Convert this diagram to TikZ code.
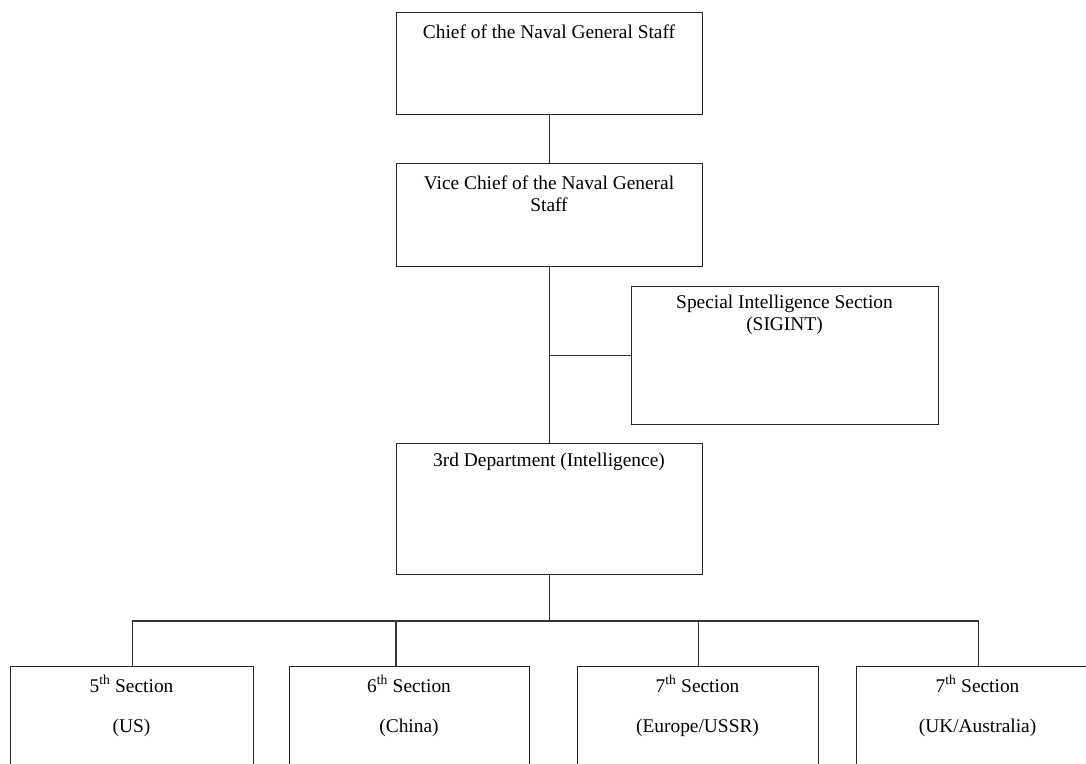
\documentclass[tikz,border=0pt]{standalone}
\usepackage{fontspec}
\setmainfont{Liberation Serif}
\begin{document}
\begin{tikzpicture}[x=1pt,y=-1pt,
  box/.style={draw=black!85, line width=1.1pt, fill=white, inner sep=0pt, anchor=north west},
  txt/.style={align=center, inner sep=0pt, font=\fontsize{19.4}{22}\selectfont},
  sectxt/.style={align=center, inner sep=0pt, font=\fontsize{19.4}{40}\selectfont},
  link/.style={draw=black!80, line width=1.1pt}]
\clip (0,0) rectangle (1086,763);
\fill[white] (0,0) rectangle (1086,763);

% boxes
\node[box, minimum width=306, minimum height=102] (chief) at (396,12) {};
\node[box, minimum width=306, minimum height=103] (vice) at (396,163) {};
\node[box, minimum width=307, minimum height=138] (sigint) at (631,286) {};
\node[box, minimum width=306, minimum height=131] (dept) at (396,443) {};
\node[box, minimum width=243, minimum height=140] (s1) at (10,666) {};
\node[box, minimum width=240, minimum height=140] (s2) at (289,666) {};
\node[box, minimum width=241, minimum height=140] (s3) at (577,666) {};
\node[box, minimum width=243, minimum height=140] (s4) at (856,666) {};

% labels
\node[txt] (chief-t) at (549,32) {Chief of the Naval General Staff};
\node[txt] (vice-t) at (549,194) {Vice Chief of the Naval General\\Staff};
\node[txt] (sigint-t) at (784.5,315) {Special Intelligence Section\\(SIGINT)};
\node[txt] (dept-t) at (549,462) {3rd Department (Intelligence)};
\node[sectxt] (s1-t) at (131.5,706) {5\textsuperscript{th} Section\\(US)};
\node[sectxt] (s2-t) at (409,706) {6\textsuperscript{th} Section\\(China)};
\node[sectxt] (s3-t) at (697.5,706) {7\textsuperscript{th} Section\\(Europe/USSR)};
\node[sectxt] (s4-t) at (977.5,706) {7\textsuperscript{th} Section\\(UK/Australia)};

% connectors
\coordinate (bus) at (0,621);
\coordinate (j2) at (396,621);
\draw[link] (chief.south) -- (vice.north);
\draw[link] (vice.south) -- (dept.north);
\draw[link] (sigint.west) -- (sigint.west -| vice.south);
\draw[link] (dept.south) -- (dept.south |- bus);
\draw[link] (s1.north) -- (s1.north |- bus) -- (s4.north |- bus) -- (s4.north);
\draw[link] (j2) -- (j2 |- s2.north);
\draw[link] (s3.north |- bus) -- (s3.north);
\end{tikzpicture}
\end{document}
